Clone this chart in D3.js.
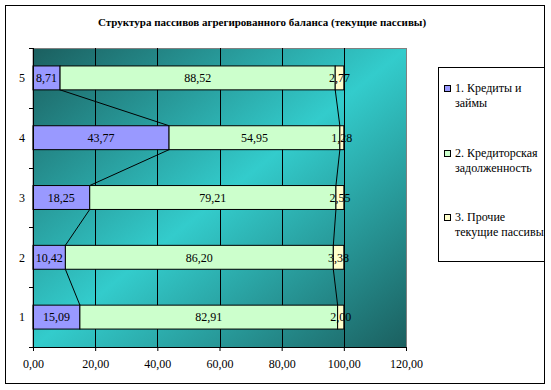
<!DOCTYPE html>
<html>
<head>
<meta charset="utf-8">
<script src="https://cdn.jsdelivr.net/npm/d3@7"></script>
<style>
body { margin: 0; background: #fff; }
svg { display: block; }
</style>
</head>
<body>
<svg></svg>
<script>
var width = 551;
var height = 390;
var serif = "'Liberation Serif', 'Times New Roman', 'DejaVu Serif', serif";

// categories bottom to top
var categories = ["1", "2", "3", "4", "5"];
var seriesNames = ["1. Кредиты и займы", "2. Кредиторская задолженность", "3. Прочие текущие пассивы"];
var credits   = [15.09, 10.42, 18.25, 43.77, 8.71];
var payables  = [82.91, 86.20, 79.21, 54.95, 88.52];
var other     = [2.00, 3.38, 2.55, 1.28, 2.77];
var xTicks = [0, 20, 40, 60, 80, 100, 120];
var colors = ["#9999ff", "#ccffcc", "#ffffcc"];

var plotLeft = 33, plotRight = 406, plotTop = 48, plotBottom = 347;

var rows = categories.map(function(c, i) {
    return { cat: c, credits: credits[i], payables: payables[i], other: other[i] };
});
var stack = d3.stack().keys(["credits", "payables", "other"]);
var layers = stack(rows);

var fmt = function(v) { return d3.format(".2f")(v).replace(".", ","); };

var xScale = d3.scaleLinear().domain([0, 120]).range([plotLeft, plotRight]);
var yScale = d3.scaleBand()
                .domain(categories.slice().reverse())
                .range([plotTop, plotBottom])
                .paddingInner(0.6)
                .paddingOuter(0.3);
var yEdge = d3.scaleLinear().domain([0, categories.length]).range([plotBottom, plotTop]);

var svg = d3.select("svg")
            .attr("width", width)
            .attr("height", height)
            .style("font-family", serif);

// background gradient of the plot area
var grad = svg.append("defs").append("linearGradient")
    .attr("id", "bg")
    .attr("x1", 0).attr("y1", 0).attr("x2", 1).attr("y2", 1);
grad.append("stop").attr("offset", "0%").attr("stop-color", "#1b5f5f");
grad.append("stop").attr("offset", "50%").attr("stop-color", "#33cccc");
grad.append("stop").attr("offset", "100%").attr("stop-color", "#1b5f5f");

// chart frame
svg.append("rect")
    .attr("x", 5.5).attr("y", 5.5)
    .attr("width", 539).attr("height", 378)
    .attr("fill", "#fff")
    .attr("stroke", "#000");

svg.append("text")
    .attr("x", 262)
    .attr("y", 26)
    .style("text-anchor", "middle")
    .style("font-weight", "bold")
    .style("font-size", "11px")
    .text("Структура пассивов агрегированного баланса (текущие пассивы)");

svg.append("rect")
    .attr("x", plotLeft).attr("y", plotTop + 0.5)
    .attr("width", plotRight - plotLeft + 0.5).attr("height", plotBottom - plotTop)
    .attr("fill", "url(#bg)")
    .attr("stroke", "#808080");

// vertical gridlines
svg.append("g")
    .selectAll("line")
    .data(xTicks.slice(1, -1))
    .enter()
    .append("line")
        .attr("x1", function(d) { return Math.round(xScale(d)) + 0.5; })
        .attr("x2", function(d) { return Math.round(xScale(d)) + 0.5; })
        .attr("y1", plotTop)
        .attr("y2", plotBottom)
        .attr("stroke", "#000");

// series lines between bars
var lineData = [];
[0, 1].forEach(function(s) {
    for (var i = 0; i < categories.length - 1; i++) {
        lineData.push({
            x1: xScale(layers[s][i][1]),
            y1: yScale(categories[i]),
            x2: xScale(layers[s][i + 1][1]),
            y2: yScale(categories[i + 1]) + yScale.bandwidth()
        });
    }
});
svg.append("g")
    .selectAll("line")
    .data(lineData)
    .enter()
    .append("line")
        .attr("x1", function(d) { return d.x1; })
        .attr("y1", function(d) { return d.y1; })
        .attr("x2", function(d) { return d.x2; })
        .attr("y2", function(d) { return d.y2; })
        .attr("stroke", "#000");

// bars
layers.forEach(function(layer, s) {
    svg.append("g")
        .selectAll("rect")
        .data(layer)
        .enter()
        .append("rect")
            .attr("x", function(d) { return xScale(d[0]); })
            .attr("y", function(d) { return yScale(d.data.cat); })
            .attr("width", function(d) { return xScale(d[1]) - xScale(d[0]); })
            .attr("height", yScale.bandwidth())
            .attr("fill", colors[s])
            .attr("stroke", "#000");
});

// data labels
layers.forEach(function(layer, s) {
    svg.append("g")
        .selectAll("text")
        .data(layer)
        .enter()
        .append("text")
            .attr("x", function(d) { return xScale((d[0] + d[1]) / 2); })
            .attr("y", function(d) { return yScale(d.data.cat) + yScale.bandwidth() / 2; })
            .attr("dy", "0.35em")
            .style("text-anchor", "middle")
            .style("font-size", "12px")
            .attr("fill", "#000")
            .text(function(d) { return fmt(d[1] - d[0]); });
});

// axes
var xAxis = d3.axisBottom(xScale)
                .tickValues(xTicks)
                .tickSize(4)
                .tickFormat(fmt);
var gx = svg.append("g")
    .attr("transform", "translate(0," + plotBottom + ")")
    .call(xAxis);
gx.attr("font-family", null);
gx.select(".domain").attr("d", "M" + (plotLeft - 4) + ",0.5H" + plotRight);
gx.selectAll("text")
    .style("font-size", "12px")
    .attr("dy", "1.2em")
    .attr("fill", "#000");

svg.append("line")
    .attr("x1", plotLeft + 0.5).attr("x2", plotLeft + 0.5)
    .attr("y1", plotTop).attr("y2", plotBottom)
    .attr("stroke", "#000");
svg.append("g")
    .selectAll("line")
    .data(d3.range(categories.length + 1))
    .enter()
    .append("line")
        .attr("x1", plotLeft - 4).attr("x2", plotLeft)
        .attr("y1", function(d) { return Math.round(yEdge(d)) + 0.5; })
        .attr("y2", function(d) { return Math.round(yEdge(d)) + 0.5; })
        .attr("stroke", "#000");
svg.append("g")
    .selectAll("text")
    .data(categories)
    .enter()
    .append("text")
        .attr("x", 22)
        .attr("y", function(d) { return yScale(d) + yScale.bandwidth() / 2; })
        .attr("dy", "0.35em")
        .style("text-anchor", "middle")
        .style("font-size", "12px")
        .text(function(d) { return d; });

// legend
var legend = svg.append("g");
legend.append("rect")
    .attr("x", 438.5).attr("y", 67.5)
    .attr("width", 106).attr("height", 194)
    .attr("fill", "#fff")
    .attr("stroke", "#000");
var legendLines = [["1. Кредиты и", "займы"], ["2. Кредиторская", "задолженность"], ["3. Прочие", "текущие пассивы"]];
var legendY = [92, 157, 221];
seriesNames.forEach(function(name, i) {
    legend.append("rect")
        .attr("x", 444.5).attr("y", legendY[i] - 6.5)
        .attr("width", 6).attr("height", 6)
        .attr("fill", colors[i])
        .attr("stroke", "#000");
    legend.append("text")
        .attr("x", 455)
        .attr("y", legendY[i])
        .style("font-size", "12px")
        .selectAll("tspan")
        .data(legendLines[i])
        .enter()
        .append("tspan")
            .attr("x", 455)
            .attr("dy", function(d, j) { return j === 0 ? 0 : 15; })
            .text(function(d) { return d; });
});
</script>
</body>
</html>
